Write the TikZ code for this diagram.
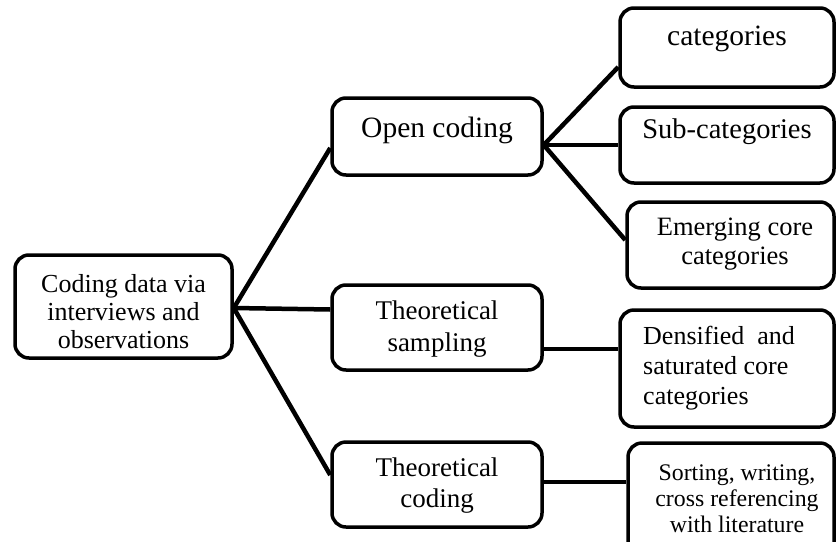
\documentclass[tikz,border=0pt]{standalone}
\usepackage{fontspec}
\setmainfont{Liberation Serif}
\tikzset{
  box/.style={draw, shape=rectangle, rounded corners=14pt, line width=3.5pt, inner sep=0pt},
  lbl/.style={align=center, inner sep=0pt},
  link/.style={line width=4.5pt},
}

\begin{document}
\begin{tikzpicture}[x=1pt, y=-1pt]
\useasboundingbox (0,0) rectangle (837,541);
% boxes
\node[box, minimum width=217pt, minimum height=103pt] (root) at (123.5,306.5) {};
\node[box, minimum width=210pt, minimum height=77pt] (open) at (437,136.5) {};
\node[box, minimum width=210pt, minimum height=85pt] (samp) at (437,327.5) {};
\node[box, minimum width=210pt, minimum height=85pt] (tcod) at (437,484.5) {};
\node[box, minimum width=214pt, minimum height=79pt] (cat) at (727,47.5) {};
\node[box, minimum width=214pt, minimum height=76pt] (sub) at (727,145) {};
\node[box, minimum width=207pt, minimum height=86pt] (emerg) at (730.5,245) {};
\node[box, minimum width=214pt, minimum height=117pt] (dens) at (727,368.5) {};
\node[box, minimum width=206pt, minimum height=116pt] (sort) at (731,501) {};
% texts
\node[lbl, font=\fontsize{26}{28}\selectfont] (troot) at (123.5,312) {Coding data via\\interviews and\\observations};
\node[lbl, font=\fontsize{29.5}{32}\selectfont] (topen) at (437,130) {Open coding};
\node[lbl, font=\fontsize{27}{32}\selectfont] (tsamp) at (437,329) {Theoretical\\sampling};
\node[lbl, font=\fontsize{27}{31}\selectfont] (ttcod) at (437,486) {Theoretical\\coding};
\node[lbl, font=\fontsize{29.5}{29}\selectfont] (tcat) at (727,39) {categories};
\node[lbl, font=\fontsize{28.5}{29}\selectfont] (tsub) at (727,132) {Sub-categories};
\node[lbl, font=\fontsize{26.5}{29}\selectfont] (temerg) at (735,244) {Emerging core\\categories};
\node[lbl, align=left, anchor=west, font=\fontsize{26}{30}\selectfont] (tdens) at (643,368) {Densified\ \ and\\saturated core\\categories};
\node[lbl, font=\fontsize{23.8}{26}\selectfont] (tsort) at (737,499) {Sorting, writing,\\cross referencing\\with literature};
% connectors
\draw[link] ([yshift=-1.5pt] root.east) -- ([yshift=-11.5pt] open.west);
\draw[link] ([yshift=-1.5pt] root.east) -- ([yshift=18pt] samp.west);
\draw[link] ([yshift=-1.5pt] root.east) -- ([yshift=9.5pt] tcod.west);
\draw[link] ([yshift=-8.5pt] open.east) -- ([yshift=-19.5pt] cat.west);
\draw[link] ([yshift=-8.5pt] open.east) -- (sub.west);
\draw[link] ([yshift=-8.5pt] open.east) -- ([yshift=5pt] emerg.west);
\draw[link] ([yshift=-21.5pt] samp.east) -- ([yshift=19.5pt] dens.west);
\draw[link] ([yshift=2.5pt] tcod.east) -- ([yshift=19pt] sort.west);
\end{tikzpicture}
\end{document}
